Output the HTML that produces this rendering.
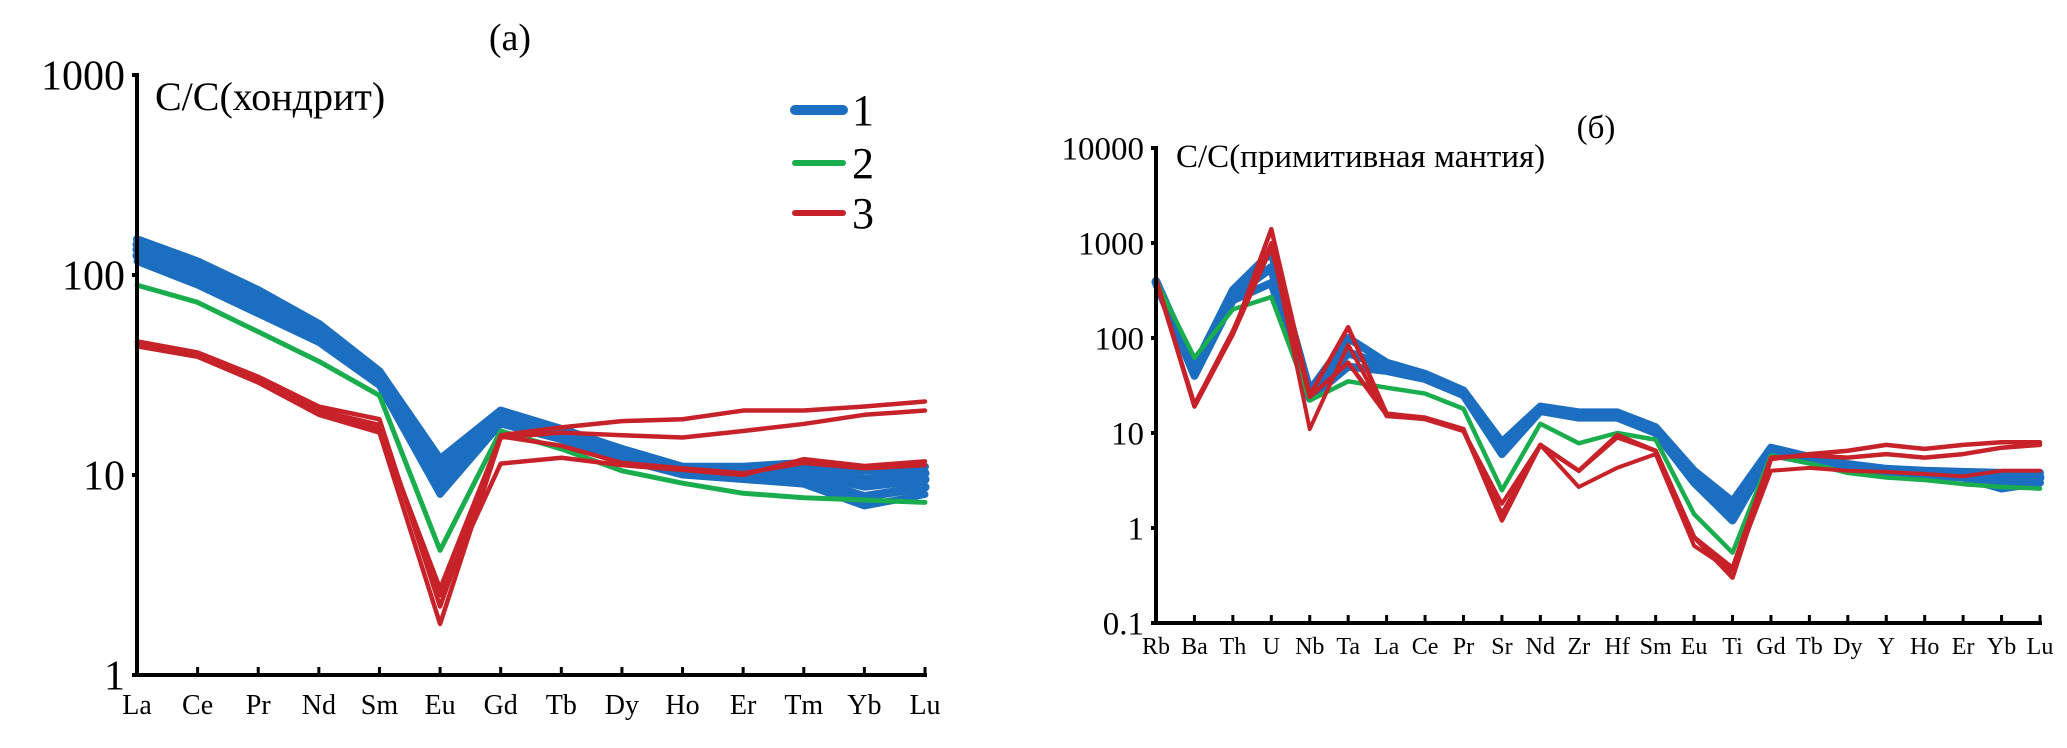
<!DOCTYPE html>
<html><head><meta charset="utf-8">
<style>
html,body{margin:0;padding:0;background:#fff;}
svg{display:block;font-family:"Liberation Serif","DejaVu Serif",serif;}
</style></head>
<body>
<svg id="svg" width="2067" height="748" viewBox="0 0 2067 748"></svg>
<script>
// ---------- Chart (a) data ----------
const catsA = ["La","Ce","Pr","Nd","Sm","Eu","Gd","Tb","Dy","Ho","Er","Tm","Yb","Lu"];
const ticksA = [1,10,100,1000];
const blueA1 = [151,117,84,57,33,12,21,17,13.5,11,11,11.5,10.5,11];
const blueA2 = [142,110,79,54,31.5,11,20,16.5,13,10.7,10.5,10.8,9.5,10.2];
const blueA3 = [134,103,74,51,30,10,19.5,16,12.7,10.5,10.2,10.2,8.8,9.5];
const blueA4 = [125,96,69,48,29,9,18.7,15.5,12.3,10.2,9.8,9.6,7.8,8.7];
const blueA5 = [117,89,64,46,28,8,18,15,12,10,9.5,9,7,8];
const greenA = [89,73,52,37,25,4.2,16.6,13.5,10.5,9.1,8.1,7.7,7.5,7.3];
const redA1 = [46.6,41,31,22,19,2.2,15.8,17.3,18.6,19,21,21,22,23.3];
const redA2 = [44,39,29,20,16.3,1.8,15.4,16.3,15.8,15.4,16.6,18,20,21];
const redA3 = [46,40,30,21,17.8,2.5,11.4,12.2,11.2,10.6,10,12,11.1,11.7];
const redA4 = [45,40,30,21,17,2.7,15.6,14,11.5,10.8,10.2,11.5,10.8,11.2];
// ---------- Chart (b) data ----------
const catsB = ["Rb","Ba","Th","U","Nb","Ta","La","Ce","Pr","Sr","Nd","Zr","Hf","Sm","Eu","Ti","Gd","Tb","Dy","Y","Ho","Er","Yb","Lu"];
const ticksB = [0.1,1,10,100,1000,10000];
const blueB1 = [400,50,320,800,28,100,55,42,28,8,19,16.5,16.5,11.5,4,1.9,7,5.6,4.7,4.2,4,3.9,3.8,3.8];
const blueB2 = [390,45,280,550,25,70,50,39,26,7,18,15.5,15.5,10.7,3.5,1.5,6.5,5.3,4.4,4,3.8,3.6,3.2,3.4];
const blueB3 = [380,40,250,380,23,50,45,37,25,6,17,14.5,14.5,10,3,1.2,6,5,4.2,3.8,3.6,3.4,2.6,3];
const greenB = [400,62,200,270,22,35,30,26,18,2.5,12.5,7.8,10,8.5,1.4,0.55,5.8,4.8,3.8,3.4,3.2,2.9,2.7,2.6];
const redB1 = [420,19,110,1400,25,130,16,14.5,11,1.2,7.5,4,9.5,6.5,0.8,0.3,5.3,6,6.5,7.5,6.8,7.5,8,8];
const redB2 = [400,20,120,1000,11,85,15,14,10.5,1.8,7.5,2.7,4.3,6,0.65,0.35,4,4.3,4,3.9,3.7,3.5,4,4];
const redB3 = [400,20,110,900,24,55,15.5,14,10.5,1.4,7.5,4,9,6.5,0.8,0.38,5.5,5.8,5.5,6,5.5,6,7,7.5];

const NS="http://www.w3.org/2000/svg";
const svg=document.getElementById('svg');
function mk(tag,attrs,parent){const e=document.createElementNS(NS,tag);for(const k in attrs)e.setAttribute(k,attrs[k]);(parent||svg).appendChild(e);return e;}

const BLUE="#1c6fc0", GREEN="#1aad4d", RED="#c72229";

function chart(cfg){
  const g=mk('g',{});
  
  
  const x=i=>cfg.x0+i*(cfg.x1-cfg.x0)/(cfg.cats.length-1);
  const y=v=>cfg.yBottom-(Math.log10(v)-Math.log10(cfg.ticks[0]))*cfg.decade;
  cfg.series.forEach(s=>{
    const p=mk('polyline',{points:s.vals.map((v,i)=>x(i)+','+y(v)).join(' '),fill:'none',stroke:s.color,'stroke-width':s.w,'stroke-linejoin':'round','stroke-linecap':'round'},g);
    
    
  });
  const yTop=y(cfg.ticks[cfg.ticks.length-1]);
  const ya=mk('line',{x1:cfg.x0,y1:yTop-2,x2:cfg.x0,y2:cfg.yBottom,stroke:'#000','stroke-width':4},g);
  
  
  const xa=mk('line',{x1:cfg.x0-2,y1:cfg.yBottom,x2:cfg.x1+2,y2:cfg.yBottom,stroke:'#000','stroke-width':4},g);
  
  
  cfg.cats.forEach((c,i)=>{
    if(i>0){const t=mk('line',{x1:x(i),y1:cfg.yBottom,x2:x(i),y2:cfg.yBottom-8,stroke:'#000','stroke-width':3},g);
      
      }
    const l=mk('text',{x:x(i),y:cfg.labelY,'font-size':cfg.labelSize,'text-anchor':'middle'},g);
    l.textContent=c;
    
    
  });
  cfg.ticks.forEach(tv=>{
    const yy=y(tv);
    const t=mk('line',{x1:cfg.x0-5,y1:yy,x2:cfg.x0+2,y2:yy,stroke:'#000','stroke-width':4},g);
    
    
    const l=mk('text',{x:cfg.x0-12,y:yy+cfg.tickSize*0.35,'font-size':cfg.tickSize,'text-anchor':'end'},g);
    l.textContent=String(tv);
    
    
  });
}

chart({name:'chart-a',cats:catsA,ticks:ticksA,x0:137,x1:925,yBottom:675,decade:200,labelY:714,labelSize:28,tickSize:42,
  series:[
    {name:'series-1-line',vals:blueA1,color:BLUE,w:8},
    {name:'series-1-line',vals:blueA2,color:BLUE,w:9},
    {name:'series-1-line',vals:blueA3,color:BLUE,w:9},
    {name:'series-1-line',vals:blueA4,color:BLUE,w:9},
    {name:'series-1-line',vals:blueA5,color:BLUE,w:7},
    {name:'series-2-line',vals:greenA,color:GREEN,w:5},
    {name:'series-3-line',vals:redA1,color:RED,w:4.5},
    {name:'series-3-line',vals:redA2,color:RED,w:4.5},
    {name:'series-3-line',vals:redA3,color:RED,w:4.5},
    {name:'series-3-line',vals:redA4,color:RED,w:4.5}
  ]});
chart({name:'chart-b',cats:catsB,ticks:ticksB,x0:1156,x1:2040,yBottom:623,decade:95,labelY:654,labelSize:24,tickSize:33,
  series:[
    {name:'series-1-line',vals:blueB1,color:BLUE,w:8},
    {name:'series-1-line',vals:blueB2,color:BLUE,w:9},
    {name:'series-1-line',vals:blueB3,color:BLUE,w:8},
    {name:'series-2-line',vals:greenB,color:GREEN,w:4.5},
    {name:'series-3-line',vals:redB1,color:RED,w:4.5},
    {name:'series-3-line',vals:redB2,color:RED,w:4},
    {name:'series-3-line',vals:redB3,color:RED,w:4.5}
  ]});

(function(){
  function t(x,y,s,txt,name,anchor){const e=document.createElementNS(NS,'text');e.setAttribute('x',x);e.setAttribute('y',y);e.setAttribute('font-size',s);if(anchor)e.setAttribute('text-anchor',anchor);e.textContent=txt;
    
    
    svg.appendChild(e);}
  t(510,50,38,"(a)","chart-a-title","middle");
  t(155,110,40,"С/С(хондрит)","chart-a-y-axis-title");
  t(1596,138,33,"(б)","chart-b-title","middle");
  t(1176,167,33,"С/С(примитивная мантия)","chart-b-y-axis-title");
  const leg=[["1",BLUE,110,10],["2",GREEN,163,6],["3",RED,213,6]];
  leg.forEach(l=>{
    const ln=document.createElementNS(NS,'line');
    ln.setAttribute('x1',795);ln.setAttribute('x2',843);ln.setAttribute('y1',l[2]);ln.setAttribute('y2',l[2]);
    ln.setAttribute('stroke',l[1]);ln.setAttribute('stroke-width',l[3]);ln.setAttribute('stroke-linecap','round');
    
    
    svg.appendChild(ln);
    t(852,l[2]+15,44,l[0],"legend-label");
  });
})();
</script>
</body></html>
